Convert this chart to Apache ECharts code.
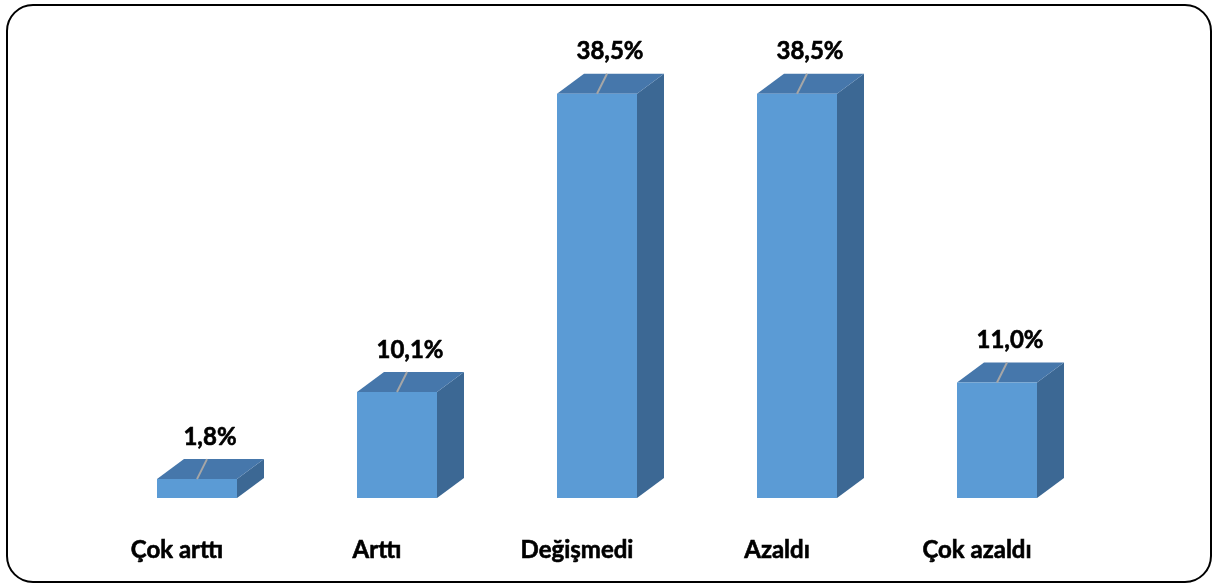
<!DOCTYPE html>
<html><head><meta charset="utf-8">
<script src="https://cdn.jsdelivr.net/npm/echarts@6/dist/echarts.min.js"></script>
<style>html,body{margin:0;padding:0;background:#fff}#c{width:1217px;height:587px}</style>
</head><body><div id="c"></div>
<script>
const categories = ['Çok arttı', 'Arttı', 'Değişmedi', 'Azaldı', 'Çok azaldı'];
const values = [1.8, 10.1, 38.5, 38.5, 11.0];

const FONT = 'Lato, "Open Sans", sans-serif';
const chart = echarts.init(document.getElementById('c'));

function fmt(v) { return v.toFixed(1).replace('.', ',') + '%'; }

chart.setOption({
  backgroundColor: '#fff',
  animation: false,
  grid: { left: 77, right: 140, top: 78, bottom: 89 },
  xAxis: {
    type: 'category', data: categories,
    axisLine: { show: false }, axisTick: { show: false },
    axisLabel: { fontFamily: FONT, fontWeight: 'bold', fontSize: 24, color: '#000', margin: 40,
                 textBorderColor: '#000', textBorderWidth: 0.6 }
  },
  yAxis: { type: 'value', min: 0, max: 40, show: false, splitLine: { show: false } },
  graphic: [{
    type: 'rect', shape: { x: 7, y: 5, width: 1204, height: 577, r: 26 },
    style: { fill: 'none', stroke: '#000', lineWidth: 2 }, z: 100
  }],
  series: [{
    type: 'custom',
    data: values.map((v, i) => [i, v]),
    renderItem: function (params, api) {
      const idx = api.value(0), val = api.value(1);
      const top = api.coord([idx, val]);
      const base = api.coord([idx, 0]);
      const band = api.size([1, 0])[0];
      const x0 = top[0] - band * 0.1;
      const w = band * 0.4;
      const dx = band * 0.135, dy = band * 0.1;
      const yT = top[1], yB = base[1];
      const cx = x0 + w / 2;
      return {
        type: 'group',
        children: [
          { type: 'polygon', shape: { points: [[x0 + w, yT], [x0 + w + dx, yT - dy], [x0 + w + dx, yB - dy], [x0 + w, yB]] },
            style: { fill: '#3C6894' } },
          { type: 'polygon', shape: { points: [[x0, yT], [x0 + dx, yT - dy], [x0 + w + dx, yT - dy], [x0 + w, yT]] },
            style: { fill: '#4677AB' } },
          { type: 'rect', shape: { x: x0, y: yT, width: w, height: yB - yT },
            style: { fill: '#5B9BD5' } },
          { type: 'line', shape: { x1: cx, y1: yT, x2: cx + 10, y2: yT - 20 },
            style: { stroke: '#A6A6A6', lineWidth: 2 } },
          { type: 'text', x: cx + 13, y: yT - 42,
            style: { text: fmt(val), fontFamily: FONT, fontWeight: 'bold', fontSize: 24, fill: '#000',
                     stroke: '#000', lineWidth: 0.6,
                     align: 'center', verticalAlign: 'middle' } }
        ]
      };
    }
  }]
});
</script></body></html>
